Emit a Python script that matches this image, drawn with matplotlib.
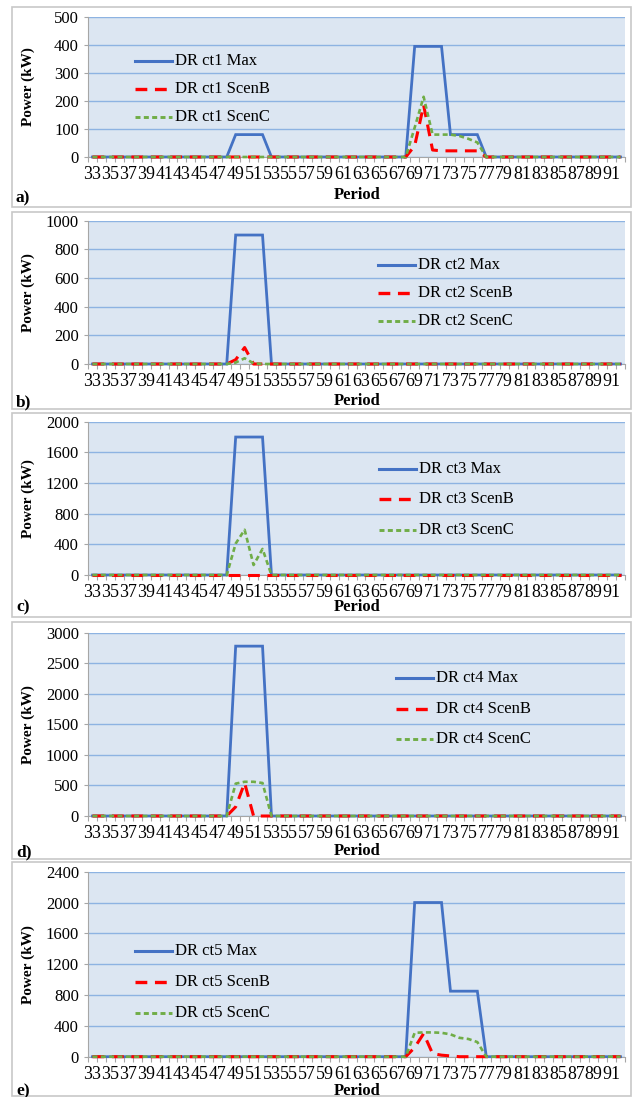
import matplotlib
matplotlib.use("Agg")
import matplotlib.pyplot as plt
from matplotlib.patches import Rectangle
from matplotlib.lines import Line2D
import numpy as np

plt.rcParams['font.family'] = ['Liberation Serif', 'DejaVu Serif']
plt.rcParams['lines.scale_dashes'] = False

# ---------------- data ----------------
periods = list(range(33, 93))
tick_periods = list(range(33, 92, 2))

# non-zero points (period: kW); all other periods are 0
ct1_max = {49: 80, 50: 80, 51: 80, 52: 80, 69: 395, 70: 395, 71: 395, 72: 395,
           73: 80, 74: 80, 75: 80, 76: 80}
ct1_b = {69: 40, 70: 185, 71: 25, 72: 22, 73: 22, 74: 22, 75: 22, 76: 22}
ct1_c = {69: 105, 70: 215, 71: 80, 72: 80, 73: 80, 74: 75, 75: 65, 76: 52}

ct2_max = {49: 900, 50: 900, 51: 900, 52: 900}
ct2_b = {49: 30, 50: 115}
ct2_c = {49: 10, 50: 40, 51: 5}

ct3_max = {49: 1800, 50: 1800, 51: 1800, 52: 1800}
ct3_b = {}
ct3_c = {49: 410, 50: 590, 51: 130, 52: 340}

ct4_max = {49: 2780, 50: 2780, 51: 2780, 52: 2780}
ct4_b = {49: 150, 50: 540}
ct4_c = {49: 530, 50: 560, 51: 560, 52: 540}

ct5_max = {69: 2000, 70: 2000, 71: 2000, 72: 2000, 73: 850, 74: 850, 75: 850, 76: 850}
ct5_b = {69: 120, 70: 300, 71: 40, 72: 20, 73: 10}
ct5_c = {69: 310, 70: 315, 71: 315, 72: 310, 73: 290, 74: 245, 75: 230, 76: 190}

series_names = ["Max", "ScenB", "ScenC"]
panel_letters = ["a)", "b)", "c)", "d)", "e)"]
ct_names = ["ct1", "ct2", "ct3", "ct4", "ct5"]
y_max = [500, 1000, 2000, 3000, 2400]
y_step = [100, 200, 400, 500, 400]
panel_data = [(ct1_max, ct1_b, ct1_c), (ct2_max, ct2_b, ct2_c), (ct3_max, ct3_b, ct3_c),
              (ct4_max, ct4_b, ct4_c), (ct5_max, ct5_b, ct5_c)]

# ---------------- layout (pixels) ----------------
W, H = 637, 1097
fig = plt.figure(figsize=(W / 100, H / 100), dpi=100)
fig.patch.set_facecolor('white')

def fx(x):
    return x / W

def fy(y):
    return 1 - y / H

boxes = [(7, 207), (212, 409), (413, 617), (622, 859), (862, 1096)]
plot_tb = [(17, 157), (220.7, 364), (421.7, 575), (632.7, 816), (871.7, 1056.7)]
period_y = [195, 401, 607, 851, 1091]
letter_y = [198, 402, 607, 852, 1091]
legend_x = [135, 378, 379, 396, 135]
legend_ys = [(61, 89, 117), (265, 293, 321), (469, 499, 530), (678, 709, 739), (951, 982, 1013)]

plot_l, plot_r = 88, 625

colors = ['#4472C4', '#FF0000', '#70AD47']
lws = [2.0, 2.2, 1.9]
dash_styles = [None, (8.5, 5.5), (3.6, 2.4)]

for i in range(5):
    bt, bb = boxes[i]
    fig.patches.append(Rectangle((fx(12), fy(bb)), fx(631 - 12), (bb - bt) / H,
                                 transform=fig.transFigure, fill=False,
                                 edgecolor='#C8C8C8', lw=1.2))
    top, bot = plot_tb[i]
    ax = fig.add_axes([fx(plot_l), fy(bot), fx(plot_r - plot_l), (bot - top) / H])
    ax.set_facecolor('#DCE6F2')
    ax.set_xlim(32.5, 92.5)
    ax.set_ylim(0, y_max[i])
    ax.set_yticks(np.arange(0, y_max[i] + 1, y_step[i]))
    ax.yaxis.grid(True, color='#8DB3E2', lw=1.0)
    ax.set_axisbelow(True)
    ax.set_xticks(tick_periods)
    ax.set_xticklabels([str(p) for p in tick_periods], fontsize=12.9)
    ax.set_xticks(np.arange(32.5, 93, 1.0), minor=True)
    ax.tick_params(axis='x', which='major', length=0, pad=6.5)
    ax.tick_params(axis='x', which='minor', length=3.5, color='#A6A6A6', width=0.8)
    ax.tick_params(axis='y', length=3, color='#A6A6A6', width=0.8, pad=3.5, labelsize=12)
    for s in ['top', 'right']:
        ax.spines[s].set_visible(False)
    for s in ['left', 'bottom']:
        ax.spines[s].set_color('#A6A6A6')
        ax.spines[s].set_linewidth(0.8)

    for k, d in enumerate(panel_data[i]):
        vals = [d.get(p, 0) for p in periods]
        ln, = ax.plot(periods, vals, color=colors[k], lw=lws[k], clip_on=False,
                      solid_joinstyle='miter', zorder=3 + k)
        if dash_styles[k] is not None:
            ln.set_dashes(dash_styles[k])
            ln.set_dash_capstyle('butt')

    # legend drawn at fixed positions
    lx = legend_x[i]
    for k in range(3):
        ly = legend_ys[i][k]
        l = Line2D([fx(lx), fx(lx + 37)], [fy(ly), fy(ly)], transform=fig.transFigure,
                   color=colors[k], lw=lws[k] + 0.2)
        if dash_styles[k] is not None:
            l.set_dashes(dash_styles[k])
        fig.lines.append(l)
        fig.text(fx(lx + 40), fy(ly), f"DR {ct_names[i]} {series_names[k]}",
                 fontsize=12, va='center', ha='left')

    fig.text(fx(28), fy((top + bot) / 2), "Power (kW)", rotation=90, fontsize=11,
             fontweight='bold', ha='center', va='center')
    fig.text(fx((plot_l + plot_r) / 2 + 1), fy(period_y[i]), "Period", fontsize=12,
             fontweight='bold', ha='center', va='center')
    fig.text(fx(16), fy(letter_y[i]), panel_letters[i], fontsize=12.5,
             fontweight='bold', ha='left', va='center')

fig.savefig("out.png", dpi=100)
